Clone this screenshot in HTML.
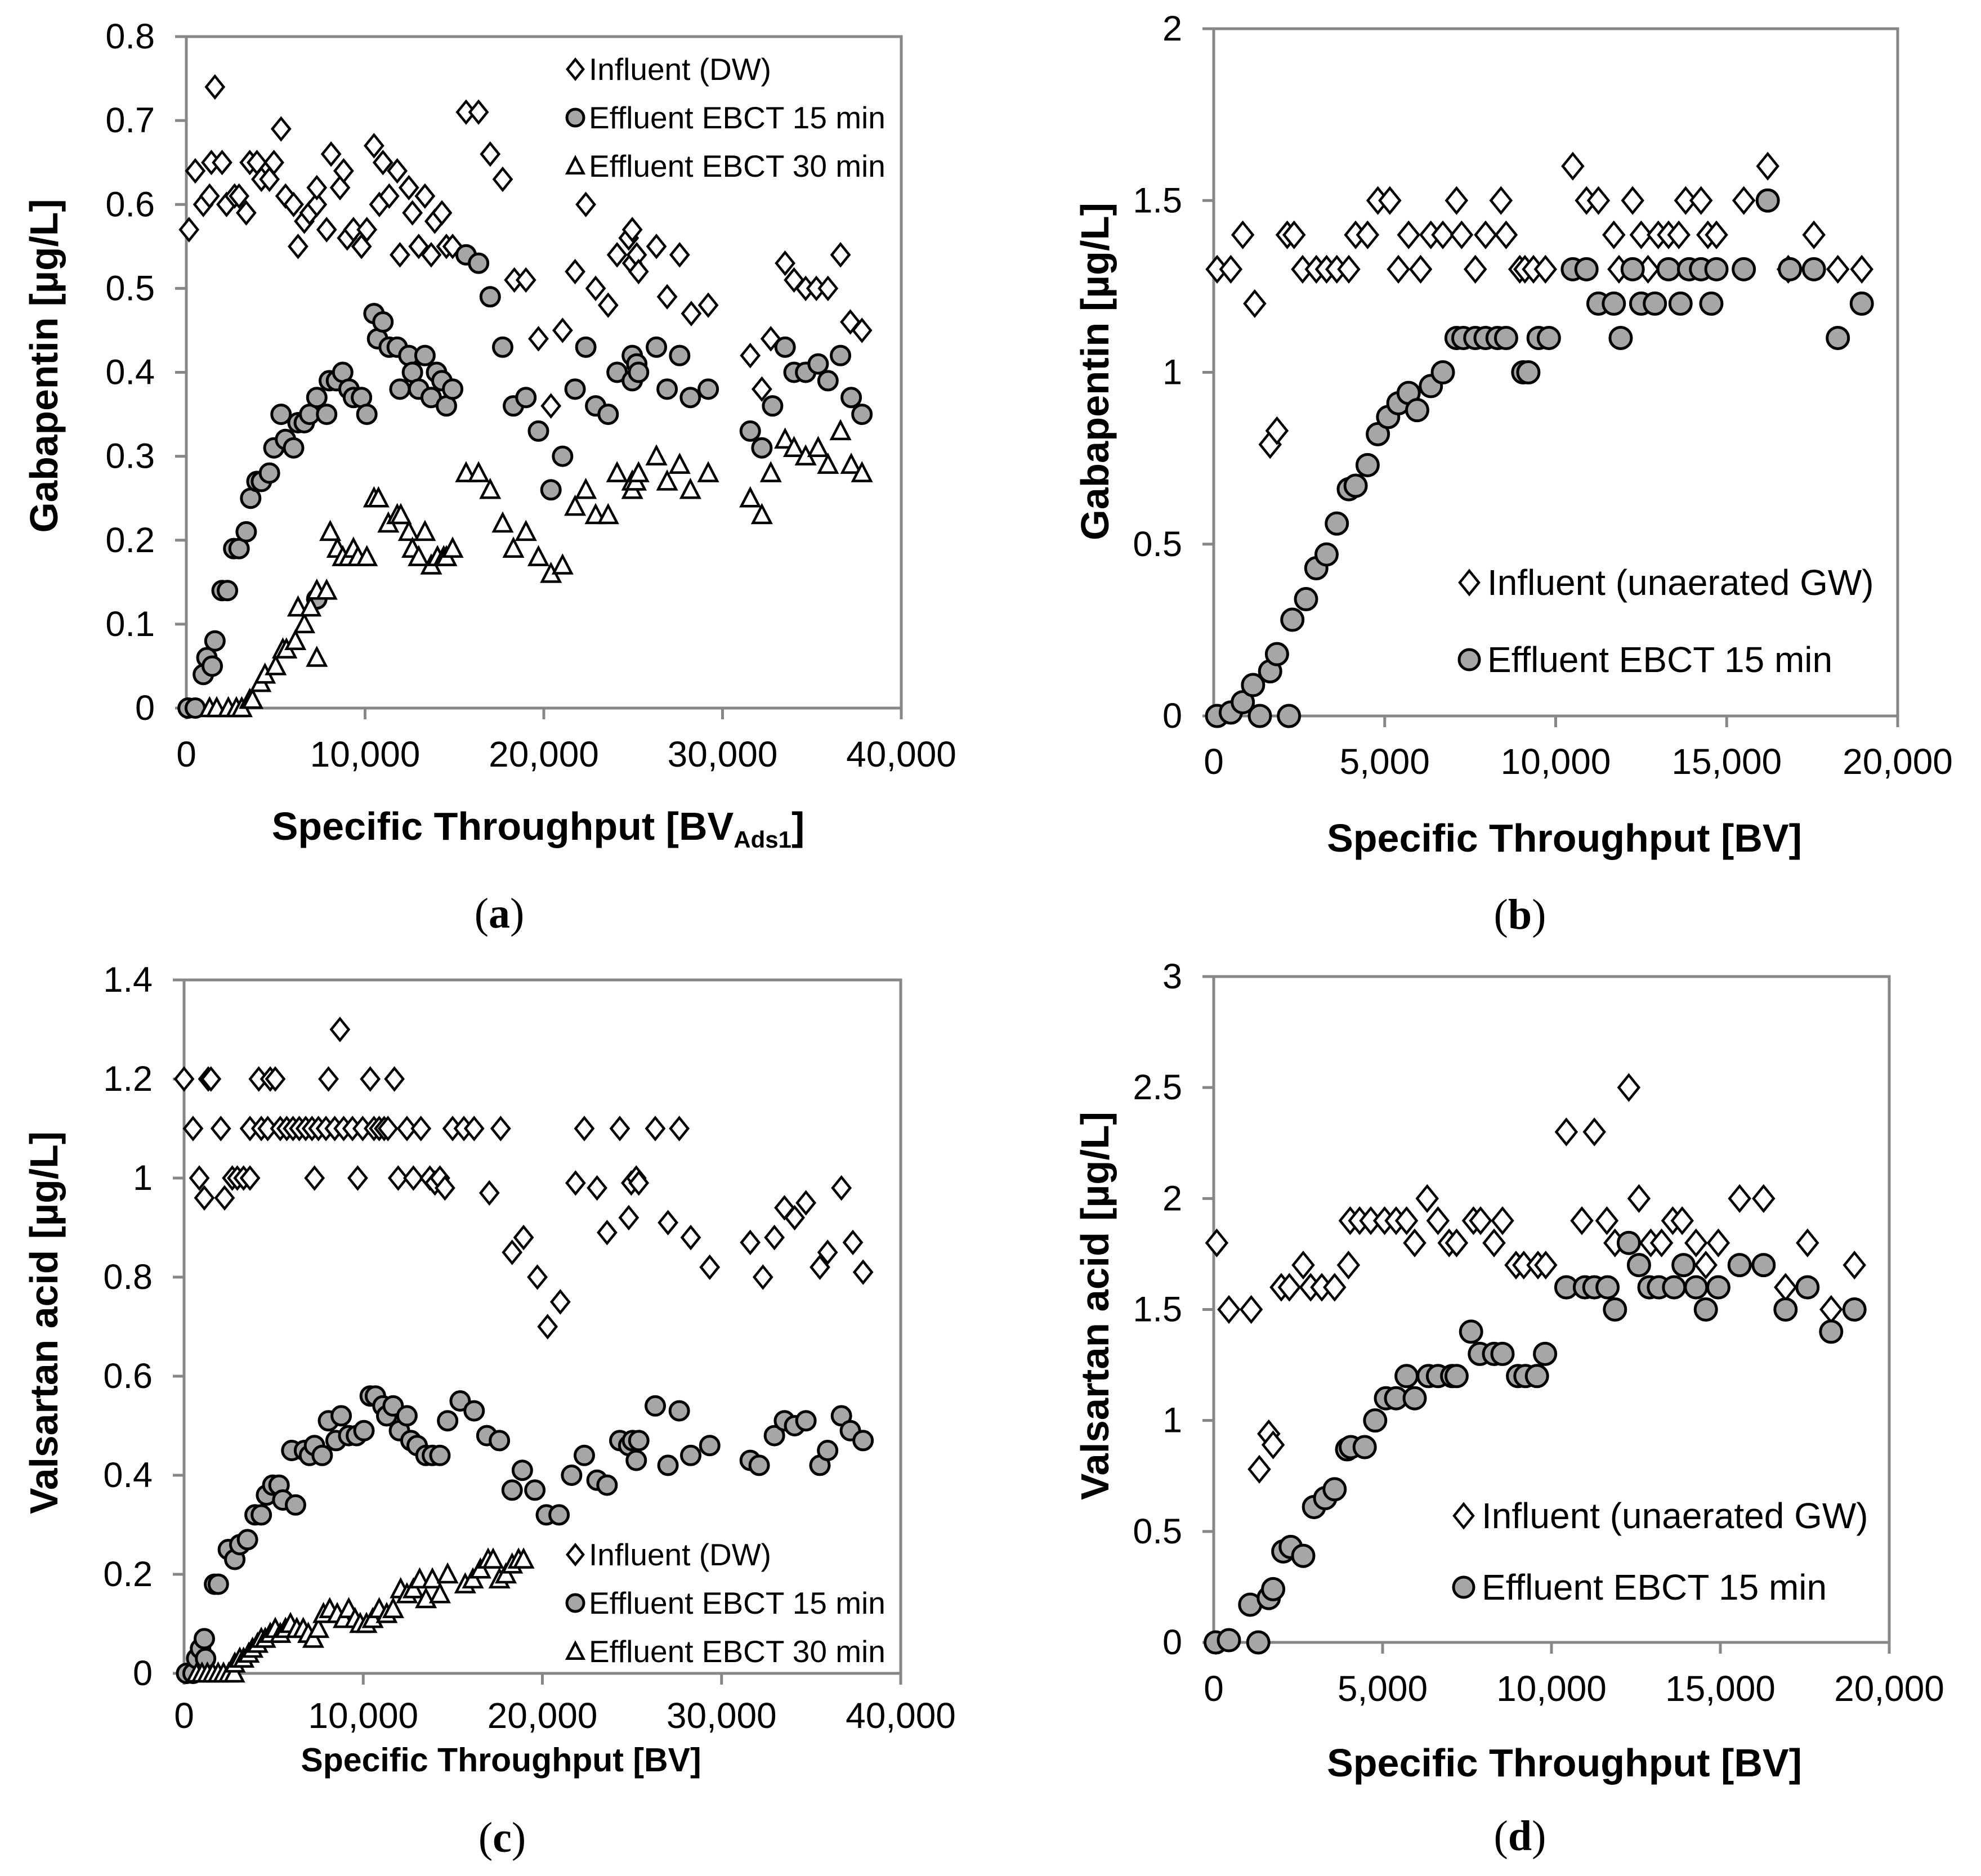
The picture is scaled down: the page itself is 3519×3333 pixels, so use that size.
<!DOCTYPE html>
<html><head><meta charset="utf-8"><style>
html,body{margin:0;padding:0;background:#fff;}
svg{display:block;font-family:"Liberation Sans",Arial,sans-serif;}
</style></head><body>
<svg id="fig" xmlns="http://www.w3.org/2000/svg" width="3519" height="3333" viewBox="0 0 3519 3333">
<rect x="0" y="0" width="3519" height="3333" fill="#fff"/>
</svg>
<script>
// ---------- Panel (a) Gabapentin, DW ----------
const aInfX=[150,500,950,1300,1400,1600,2000,2250,2700,2950,3350,3550,3950,4200,4650,4900,5300,5550,6000,6250,6600,6900,7300,7300,7850,8100,8600,8800,9000,9350,9800,10100,10500,10800,11000,11350,11800,11950,12450,12650,13000,13350,13700,13900,14300,14550,14900,15650,16350,17000,17700,18350,19000,19700,20400,21050,21750,22350,22900,23600,24100,24750,24950,24950,25200,25300,26300,26900,27600,28250,29200,31550,32200,32700,33500,34000,34650,35250,35900,36600,37150,37800];
const aInfY=[0.57,0.64,0.60,0.61,0.65,0.74,0.65,0.60,0.61,0.61,0.59,0.65,0.65,0.63,0.63,0.65,0.69,0.61,0.60,0.55,0.58,0.59,0.60,0.62,0.57,0.66,0.62,0.64,0.56,0.57,0.55,0.57,0.67,0.60,0.65,0.61,0.64,0.54,0.62,0.59,0.55,0.61,0.54,0.58,0.59,0.55,0.55,0.71,0.71,0.66,0.63,0.51,0.51,0.44,0.36,0.45,0.52,0.60,0.50,0.48,0.54,0.56,0.57,0.53,0.54,0.52,0.55,0.49,0.54,0.47,0.48,0.42,0.38,0.44,0.53,0.51,0.50,0.50,0.50,0.54,0.46,0.45];
const aE15X=[100,500,950,1150,1450,1600,2000,2300,2650,2950,3350,3600,3950,4200,4650,4900,5300,5550,6000,6250,6600,6900,7300,7300,7850,8000,8400,8750,9100,9350,9800,10100,10500,10700,11000,11350,11800,11950,12450,12650,13000,13350,13700,14000,14300,14550,14900,15650,16350,17000,17700,18300,19000,19700,20400,21050,21750,22350,22900,23600,24100,24950,24950,25200,25300,26300,26900,27600,28200,29200,31550,32200,32800,33500,34000,34650,35350,35900,36600,37200,37800];
const aE15Y=[0,0,0.04,0.06,0.05,0.08,0.14,0.14,0.19,0.19,0.21,0.25,0.27,0.27,0.28,0.31,0.35,0.32,0.31,0.34,0.34,0.35,0.37,0.13,0.35,0.39,0.39,0.40,0.38,0.37,0.37,0.35,0.47,0.44,0.46,0.43,0.43,0.38,0.42,0.40,0.38,0.42,0.37,0.40,0.39,0.36,0.38,0.54,0.53,0.49,0.43,0.36,0.37,0.33,0.26,0.30,0.38,0.43,0.36,0.35,0.40,0.42,0.39,0.41,0.40,0.43,0.38,0.42,0.37,0.38,0.33,0.31,0.36,0.43,0.40,0.40,0.41,0.39,0.42,0.37,0.35];
const aE30X=[1300,1700,2350,2800,3100,3550,3700,4150,4400,5000,5400,5600,6100,6250,6600,6950,7300,7300,7850,8050,8450,8750,9100,9350,9600,10100,10500,10750,11300,11800,12000,12450,12650,13000,13350,13700,14050,14400,14550,14900,15650,16350,17000,17700,18300,19000,19700,20400,21050,21750,22350,22900,23600,24100,24950,24950,25150,25300,26300,26900,27600,28200,29200,31550,32200,32700,33500,34000,34650,35350,35900,36600,37200,37800];
const aE30Y=[0,0,0,0,0,0.01,0.01,0.03,0.04,0.05,0.07,0.07,0.08,0.12,0.10,0.12,0.14,0.06,0.14,0.21,0.19,0.18,0.18,0.19,0.18,0.18,0.25,0.25,0.22,0.23,0.23,0.21,0.19,0.18,0.21,0.17,0.18,0.18,0.18,0.19,0.28,0.28,0.26,0.22,0.19,0.21,0.18,0.16,0.17,0.24,0.26,0.23,0.23,0.28,0.27,0.26,0.27,0.28,0.30,0.27,0.29,0.26,0.28,0.25,0.23,0.28,0.32,0.31,0.30,0.31,0.29,0.33,0.29,0.28];
// ---------- Panel (b) Gabapentin, GW ----------
const bInfX=[100,500,850,1200,1650,1850,2150,2350,2600,3000,3300,3600,3950,4150,4500,4800,5150,5400,5700,6050,6350,6700,7100,7250,7650,7950,8400,8550,8950,9100,9350,9700,10500,10900,11250,11700,11850,12250,12500,12700,13000,13300,13600,13800,14250,14450,14700,15500,16200,16800,17550,18250,18950];
const bInfY=[1.3,1.3,1.4,1.2,0.79,0.83,1.4,1.4,1.3,1.3,1.3,1.3,1.3,1.4,1.4,1.5,1.5,1.3,1.4,1.3,1.4,1.4,1.5,1.4,1.3,1.4,1.5,1.4,1.3,1.3,1.3,1.3,1.6,1.5,1.5,1.4,1.3,1.5,1.4,1.3,1.4,1.4,1.4,1.5,1.5,1.4,1.4,1.5,1.6,1.3,1.4,1.3,1.3];
const bE15X=[100,500,850,1150,1350,1650,1850,2200,2300,2700,3000,3300,3600,3950,4150,4500,4800,5100,5400,5700,5950,6350,6700,7100,7300,7650,7950,8300,8550,9050,9200,9500,9800,10500,10900,11250,11700,11900,12250,12500,12900,13300,13650,13900,14250,14550,14700,15500,16200,16850,17550,18250,18950];
const bE15Y=[0,0.01,0.04,0.09,0,0.13,0.18,0,0.28,0.34,0.43,0.47,0.56,0.66,0.67,0.73,0.82,0.87,0.91,0.94,0.89,0.96,1.0,1.1,1.1,1.1,1.1,1.1,1.1,1.0,1.0,1.1,1.1,1.3,1.3,1.2,1.2,1.1,1.3,1.2,1.2,1.3,1.2,1.3,1.3,1.2,1.3,1.3,1.5,1.3,1.3,1.1,1.2];
// ---------- Panel (c) Valsartan acid, DW ----------
const cInfX=[0,500,850,1130,1350,1500,2050,2260,2690,2970,3320,3680,3680,4170,4310,4670,4810,5090,5370,5730,6080,6430,6790,7140,7280,7500,7920,8060,8410,8700,8910,9400,9690,9970,10390,10600,10890,11170,11380,11740,11950,12440,12800,13220,13720,14000,14280,14560,14990,15620,16190,17040,17670,18310,18950,19720,20290,21000,21850,22340,23050,23610,24320,24820,24960,25240,25380,26300,27010,27640,28280,29340,31600,32310,32950,33510,34080,34710,35490,35920,36690,37330,37900];
const cInfY=[1.2,1.1,1.0,0.96,1.2,1.2,1.1,0.96,1.0,1.0,1.0,1.0,1.1,1.2,1.1,1.1,1.2,1.2,1.1,1.1,1.1,1.1,1.1,1.1,1.0,1.1,1.1,1.2,1.1,1.3,1.1,1.1,1.0,1.1,1.2,1.1,1.1,1.1,1.1,1.2,1.0,1.1,1.0,1.1,1.0,0.99,1.0,0.98,1.1,1.1,1.1,0.97,1.1,0.85,0.88,0.80,0.70,0.75,0.99,1.1,0.98,0.89,1.1,0.92,0.99,1.0,0.99,1.1,0.91,1.1,0.88,0.82,0.87,0.80,0.88,0.94,0.92,0.95,0.82,0.85,0.98,0.87,0.81];
const cE15X=[140,500,700,920,1130,1200,1700,1910,2470,2830,3110,3540,3960,4310,4600,4950,5300,5510,6010,6220,6720,7000,7280,7710,8060,8480,8770,9190,9620,10040,10390,10680,11100,11310,11670,12020,12440,12660,13010,13500,13860,14280,14710,15410,16190,16900,17600,18310,18880,19580,20220,20930,21630,22340,23050,23610,24320,24820,25030,25240,25380,26300,27010,27640,28280,29340,31600,32100,32950,33510,34080,34710,35490,35920,36690,37190,37900];
const cE15Y=[0,0,0.03,0.05,0.07,0.03,0.18,0.18,0.25,0.23,0.26,0.27,0.32,0.32,0.36,0.38,0.38,0.35,0.45,0.34,0.45,0.44,0.46,0.44,0.51,0.47,0.52,0.48,0.48,0.49,0.56,0.56,0.54,0.52,0.54,0.49,0.52,0.47,0.46,0.44,0.44,0.44,0.51,0.55,0.53,0.48,0.47,0.37,0.41,0.37,0.32,0.32,0.40,0.44,0.39,0.38,0.47,0.46,0.47,0.43,0.47,0.54,0.42,0.53,0.44,0.46,0.43,0.42,0.48,0.51,0.50,0.51,0.42,0.45,0.52,0.49,0.47];
const cE30X=[700,1000,1300,1600,1900,2200,2500,2800,2830,3110,3320,3610,3820,4100,4310,4530,4810,5090,5370,5660,5940,6290,6650,6930,7210,7500,7780,8130,8550,8910,9190,9540,9830,10180,10530,10890,11310,11670,12090,12440,12800,13150,13500,13860,14280,14710,15690,16120,16540,16970,17250,17600,17960,18310,18670,18950];
const cE30Y=[0,0,0,0,0,0,0,0,0.02,0.03,0.03,0.04,0.05,0.06,0.07,0.07,0.08,0.09,0.08,0.09,0.10,0.09,0.09,0.08,0.07,0.09,0.12,0.13,0.12,0.11,0.13,0.11,0.10,0.10,0.11,0.13,0.12,0.13,0.17,0.16,0.17,0.19,0.15,0.19,0.16,0.20,0.18,0.19,0.21,0.23,0.23,0.19,0.20,0.22,0.23,0.23];
// ---------- Panel (d) Valsartan acid, GW ----------
const dInfX=[90,450,1110,1350,1630,1760,2000,2240,2650,2870,3200,3580,3990,4040,4320,4650,5060,5400,5710,5950,6320,6640,6970,7190,7690,7900,8300,8550,8950,9180,9600,9830,10440,10900,11270,11640,11880,12290,12590,12940,13260,13590,13870,14280,14570,14940,15570,16280,16930,17580,18280,18970];
const dInfY=[1.8,1.5,1.5,0.78,0.94,0.89,1.6,1.6,1.7,1.6,1.6,1.6,1.7,1.9,1.9,1.9,1.9,1.9,1.9,1.8,2.0,1.9,1.8,1.8,1.9,1.9,1.8,1.9,1.7,1.7,1.7,1.7,2.3,1.9,2.3,1.9,1.8,2.5,2.0,1.8,1.8,1.9,1.9,1.8,1.7,1.8,2.0,2.0,1.6,1.8,1.5,1.7];
const dE15X=[60,450,1080,1320,1630,1760,2060,2280,2650,2970,3300,3580,3950,4060,4470,4780,5100,5400,5710,5950,6360,6640,7060,7190,7620,7880,8300,8550,9010,9230,9570,9810,10440,10990,11270,11660,11880,12290,12590,12900,13180,13630,13910,14280,14570,14940,15570,16280,16930,17580,18280,18970];
const dE15Y=[0,0.01,0.17,0,0.2,0.24,0.41,0.43,0.39,0.61,0.65,0.69,0.87,0.88,0.88,1.0,1.1,1.1,1.2,1.1,1.2,1.2,1.2,1.2,1.4,1.3,1.3,1.3,1.2,1.2,1.2,1.3,1.6,1.6,1.6,1.6,1.5,1.8,1.7,1.6,1.6,1.6,1.7,1.6,1.5,1.6,1.7,1.7,1.5,1.6,1.4,1.5];
// ---------- Tick labels ----------
const aYTicks=["0","0.1","0.2","0.3","0.4","0.5","0.6","0.7","0.8"];
const bYTicks=["0","0.5","1","1.5","2"];
const cYTicks=["0","0.2","0.4","0.6","0.8","1","1.2","1.4"];
const dYTicks=["0","0.5","1","1.5","2","2.5","3"];
const acXTicks=["0","10,000","20,000","30,000","40,000"];
const bdXTicks=["0","5,000","10,000","15,000","20,000"];

const NS="http://www.w3.org/2000/svg";
const svg=document.getElementById('fig');
function mk(tag,attrs,parent){const e=document.createElementNS(NS,tag);for(const k in attrs)e.setAttribute(k,attrs[k]);(parent||svg).appendChild(e);return e;}

function marker(g,type,cx,cy,sz){
  let e;
  if(type==='diamond'){
    const w=sz*0.47,h=sz*0.58;
    e=mk('path',{d:`M${cx} ${cy-h}L${cx+w} ${cy}L${cx} ${cy+h}L${cx-w} ${cy}Z`,fill:'#fff',stroke:'#000','stroke-width':4.5,'stroke-linejoin':'miter'},g);
  }else if(type==='circle'){
    e=mk('circle',{cx:cx,cy:cy,r:sz*0.5,fill:'#a6a6a6',stroke:'#000','stroke-width':5},g);
  }else{
    const w=sz*0.48,h=sz*0.5;
    e=mk('path',{d:`M${cx} ${cy-h}L${cx+w} ${cy+h*0.85}L${cx-w} ${cy+h*0.85}Z`,fill:'#fff',stroke:'#000','stroke-width':4.5,'stroke-linejoin':'miter'},g);
  }
  return e;
}

function panel(p){
  const g=mk('g',{});
  
  
  const sx=v=>p.x0+(v-p.xmin)/(p.xmax-p.xmin)*(p.x1-p.x0);
  const sy=v=>p.y0-(v-p.ymin)/(p.ymax-p.ymin)*(p.y0-p.y1);
  const ax='#878787';
  const box=mk('rect',{x:p.x0,y:p.y1,width:p.x1-p.x0,height:p.y0-p.y1,fill:'none',stroke:ax,'stroke-width':5},g);
  
  
  p.yTicks.forEach((t,i)=>{
    const v=p.ymin+i*(p.ymax-p.ymin)/(p.yTicks.length-1);
    const y=sy(v);
    mk('line',{x1:p.x0-20,x2:p.x0,y1:y,y2:y,stroke:ax,'stroke-width':5},g);
    const tx=mk('text',{x:p.x0-56,y:y,'font-size':63,'text-anchor':'end','dominant-baseline':'central',fill:'#000'},g);
    tx.textContent=t;
    
    
  });
  p.xTicks.forEach((t,i)=>{
    const v=p.xmin+i*(p.xmax-p.xmin)/(p.xTicks.length-1);
    const x=sx(v);
    mk('line',{x1:x,x2:x,y1:p.y0,y2:p.y0+20,stroke:ax,'stroke-width':5},g);
    const tx=mk('text',{x:x,y:p.y0+p.xlabOff,'font-size':64,'text-anchor':'middle','dominant-baseline':'central',fill:'#000'},g);
    tx.textContent=t;
    
    
  });
  p.series.forEach(s=>{
    const sg=mk('g',{},g);
    
    
    s.xs.forEach((xv,i)=>{
      const m=marker(sg,s.type,sx(xv),sy(s.ys[i]),p.msz);
      
      
    });
  });
  p.legend.forEach((l,i)=>{
    const lm=marker(g,l.type,p.legX,p.legY[i],p.legSz);
    
    
    const lt=mk('text',{x:p.legTX,y:p.legY[i],'font-size':p.legFont,'dominant-baseline':'central',fill:'#000'},g);
    lt.textContent=l.label;
    
    
  });
  const yt=mk('text',{x:0,y:0,'font-size':p.ytFont,'font-weight':'bold','text-anchor':'middle','dominant-baseline':'central',transform:`translate(${p.ytX},${p.ytY}) rotate(-90)`,textLength:p.ytLen,lengthAdjust:'spacingAndGlyphs'},g);
  yt.textContent=p.ytitle;
  
  
  const xt=mk('text',{x:p.xtX,y:p.xtY,'font-size':p.xtFont,'font-weight':'bold','text-anchor':'middle'},g);
  
  
  if(p.xsub){
    xt.appendChild(document.createTextNode('Specific Throughput [BV'));
    const ts=document.createElementNS(NS,'tspan');
    ts.setAttribute('font-size',p.xtFont*0.6);ts.setAttribute('dy',14);ts.textContent='Ads1';xt.appendChild(ts);
    const ts2=document.createElementNS(NS,'tspan');ts2.setAttribute('dy',-14);ts2.textContent=']';xt.appendChild(ts2);
  }else xt.textContent='Specific Throughput [BV]';
  const pl=mk('text',{x:p.lbX,y:p.lbY,'font-size':76,'text-anchor':'middle','dominant-baseline':'central','font-family':'Liberation Serif, serif'},g);
  pl.appendChild(document.createTextNode('('));
  const b=document.createElementNS(NS,'tspan');b.setAttribute('font-weight','bold');b.textContent=p.lb;pl.appendChild(b);
  pl.appendChild(document.createTextNode(')'));
  
  
}

panel({name:'panel-a',x0:331,x1:1601,y0:1258,y1:65,xmin:0,xmax:40000,ymin:0,ymax:0.8,yTicks:aYTicks,xTicks:acXTicks,xlabOff:82,msz:33,
  series:[{name:'influent-dw',type:'diamond',xs:aInfX,ys:aInfY},{name:'effluent-ebct-15',type:'circle',xs:aE15X,ys:aE15Y},{name:'effluent-ebct-30',type:'triangle',xs:aE30X,ys:aE30Y}],
  legend:[{type:'diamond',label:'Influent (DW)'},{type:'circle',label:'Effluent EBCT 15 min'},{type:'triangle',label:'Effluent EBCT 30 min'}],
  legX:1022,legTX:1046,legY:[123,209,295],legSz:30,legFont:55,
  ytitle:'Gabapentin [µg/L]',ytX:78,ytY:650,ytLen:593,ytFont:70,xtX:956,xtY:1492,xtFont:70,xsub:true,lb:'a',lbX:887,lbY:1623});
panel({name:'panel-b',x0:2156,x1:3371,y0:1272,y1:51,xmin:0,xmax:20000,ymin:0,ymax:2,yTicks:bYTicks,xTicks:bdXTicks,xlabOff:81,msz:38,
  series:[{name:'influent-gw',type:'diamond',xs:bInfX,ys:bInfY},{name:'effluent-ebct-15',type:'circle',xs:bE15X,ys:bE15Y}],
  legend:[{type:'diamond',label:'Influent (unaerated GW)'},{type:'circle',label:'Effluent EBCT 15 min'}],
  legX:2610,legTX:2642,legY:[1035,1172],legSz:36,legFont:64,
  ytitle:'Gabapentin [µg/L]',ytX:1945,ytY:660,ytLen:600,ytFont:70,xtX:2779,xtY:1513,xtFont:70,xsub:false,lb:'b',lbX:2700,lbY:1625});
panel({name:'panel-c',x0:327,x1:1600,y0:2973,y1:1741,xmin:0,xmax:40000,ymin:0,ymax:1.4,yTicks:cYTicks,xTicks:acXTicks,xlabOff:75,msz:33,
  series:[{name:'influent-dw',type:'diamond',xs:cInfX,ys:cInfY},{name:'effluent-ebct-15',type:'circle',xs:cE15X,ys:cE15Y},{name:'effluent-ebct-30',type:'triangle',xs:cE30X,ys:cE30Y}],
  legend:[{type:'diamond',label:'Influent (DW)'},{type:'circle',label:'Effluent EBCT 15 min'},{type:'triangle',label:'Effluent EBCT 30 min'}],
  legX:1022,legTX:1046,legY:[2762,2848,2934],legSz:30,legFont:55,
  ytitle:'Valsartan acid [µg/L]',ytX:78,ytY:2350,ytLen:680,ytFont:70,xtX:890,xtY:3147,xtFont:59,xsub:false,lb:'c',lbX:892,lbY:3265});
panel({name:'panel-d',x0:2156,x1:3356,y0:2918,y1:1735,xmin:0,xmax:20000,ymin:0,ymax:3,yTicks:dYTicks,xTicks:bdXTicks,xlabOff:82,msz:38,
  series:[{name:'influent-gw',type:'diamond',xs:dInfX,ys:dInfY},{name:'effluent-ebct-15',type:'circle',xs:dE15X,ys:dE15Y}],
  legend:[{type:'diamond',label:'Influent (unaerated GW)'},{type:'circle',label:'Effluent EBCT 15 min'}],
  legX:2600,legTX:2632,legY:[2693,2820],legSz:36,legFont:64,
  ytitle:'Valsartan acid [µg/L]',ytX:1945,ytY:2320,ytLen:690,ytFont:70,xtX:2779,xtY:3156,xtFont:70,xsub:false,lb:'d',lbX:2700,lbY:3262});
</script>
</body></html>
